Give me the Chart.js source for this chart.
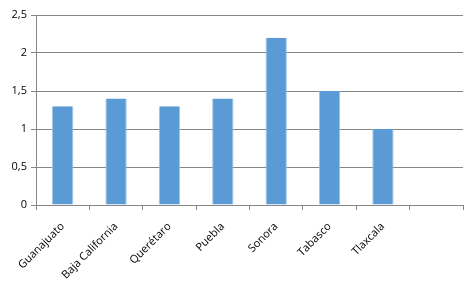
<!DOCTYPE html>
<html>
<head>
<meta charset="utf-8">
<script src="https://cdn.jsdelivr.net/npm/chart.js@4"></script>
<style>
  html, body { margin: 0; padding: 0; background: #fff; }
  #chart { display: block; }
</style>
</head>
<body>
<canvas id="chart" width="475" height="285"></canvas>
<script>
// Categories (last slot is empty in the original chart)
const categories = ['Guanajuato', 'Baja California', 'Querétaro', 'Puebla', 'Sonora', 'Tabasco', 'Tlaxcala', ''];
const values = [1.3, 1.4, 1.3, 1.4, 2.2, 1.5, 1.0, null];
const yTicks = [0, 0.5, 1, 1.5, 2, 2.5];

const gridColor = '#868686';
const textColor = '#000';
const fontFamily = '"Open Sans", "DejaVu Sans", sans-serif';

const ctx = document.getElementById('chart').getContext('2d');

new Chart(ctx, {
  type: 'bar',
  data: {
    labels: categories,
    datasets: [{
      data: values,
      backgroundColor: '#5b9bd5',
      borderColor: '#9dc3e6',
      borderWidth: { left: 1, right: 1, top: 0, bottom: 0 },
      categoryPercentage: 1,
      barPercentage: 0.4
    }]
  },
  options: {
    responsive: false,
    animation: false,
    layout: { padding: { top: 15, right: 12, left: 0, bottom: 0 } },
    plugins: {
      legend: { display: false },
      tooltip: { enabled: false }
    },
    scales: {
      x: {
        offset: true,
        grid: {
          offset: true,
          drawOnChartArea: false,
          drawTicks: true,
          tickLength: 5,
          color: gridColor
        },
        border: { color: gridColor, width: 1 },
        ticks: {
          color: textColor,
          font: { family: fontFamily, size: 11 },
          minRotation: 45,
          maxRotation: 45,
          autoSkip: false,
          padding: 10
        },
        afterFit: function(scale) { scale.height = 80; }
      },
      y: {
        min: 0,
        max: 2.5,
        afterBuildTicks: function(scale) {
          scale.ticks = yTicks.map(v => ({ value: v }));
        },
        grid: {
          color: gridColor,
          tickLength: 5,
          drawTicks: true
        },
        border: { color: gridColor, width: 1 },
        ticks: {
          color: textColor,
          font: { family: fontFamily, size: 11 },
          padding: 4,
          callback: function(value) {
            return String(value).replace('.', ',');
          }
        },
        afterFit: function(scale) { scale.width = 36; }
      }
    }
  }
});
</script>
</body>
</html>
